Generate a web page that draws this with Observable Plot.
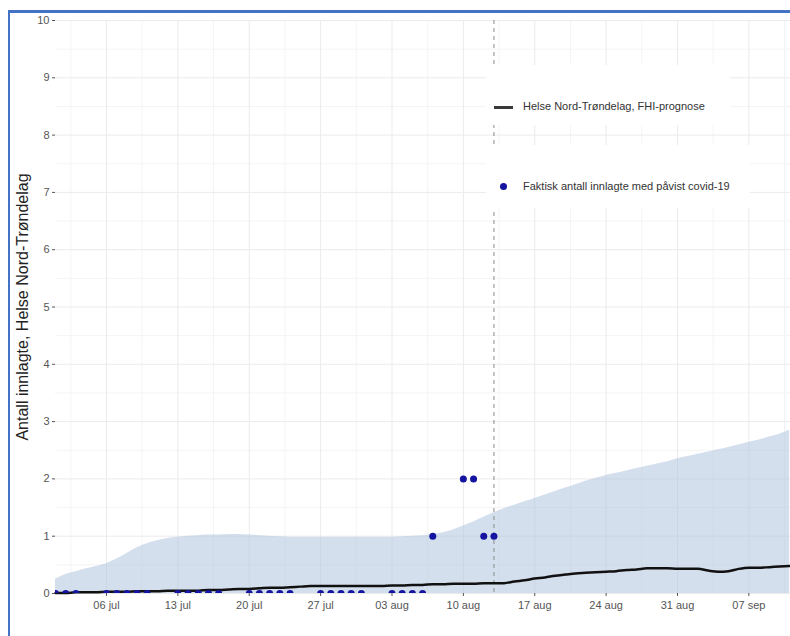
<!DOCTYPE html>
<html><head><meta charset="utf-8">
<script src="https://cdn.jsdelivr.net/npm/d3@7"></script>
<script src="https://cdn.jsdelivr.net/npm/@observablehq/plot@0.6"></script>
<style>
html,body{margin:0;padding:0;background:#fff;overflow:hidden;width:790px;height:636px;}
#chart{position:absolute;left:0;top:0;}
#frame{position:absolute;left:8px;top:10px;width:1000px;height:1000px;border-top:3px solid #4472c4;border-left:2px solid #4472c4;pointer-events:none;z-index:3}
.lg{position:absolute;background:#fff;z-index:2;font-family:"Liberation Sans",Arial,sans-serif;font-size:11px;color:#333;}
.lg span{position:absolute;white-space:nowrap;line-height:13px}
</style></head><body>
<div id="chart"></div>
<div class="lg" style="left:486px;top:65px;width:244px;height:60px">
  <span style="left:8px;top:41px;width:19px;height:3px;background:#3a3a3a"></span>
  <span id="lg1" style="left:37px;top:35px"></span>
</div>
<div class="lg" style="left:486px;top:145px;width:264px;height:63px">
  <span style="left:14px;top:38px;width:7px;height:7px;border-radius:50%;background:#1414a0"></span>
  <span id="lg2" style="left:37px;top:35px"></span>
</div>
<div id="frame"></div>
<script>
// ---- data ----
const startDay = "2020-07-01";
const prognosis = [
  0.01,0.01,0.02,0.02,0.02,0.03,0.03,0.03,0.04,0.04,0.04,0.05,0.05,0.05,0.05,0.06,0.06,0.07,0.08,0.08,0.09,0.10,0.10,0.11,0.12,0.13,0.13,0.13,0.13,0.13,0.13,
  0.13,0.13,0.14,0.14,0.15,0.15,0.16,0.16,0.17,0.17,0.17,0.18,0.18,0.18,0.21,0.23,0.26,0.28,0.31,0.33,0.35,0.36,0.37,0.38,0.39,0.41,0.42,0.44,0.44,0.44,0.43,
  0.43,0.43,0.40,0.38,0.39,0.43,0.45,0.45,0.46,0.47,0.48
];
const bandUpper = [
  0.25,0.33,0.38,0.43,0.47,0.52,0.60,0.70,0.80,0.87,0.92,0.96,0.98,1.00,1.01,1.02,1.02,1.03,1.03,1.02,1.01,1.00,0.99,0.98,0.98,0.98,0.98,0.98,0.98,0.98,0.98,
  0.98,0.98,0.98,0.99,1.00,1.01,1.03,1.06,1.11,1.18,1.25,1.33,1.41,1.48,1.54,1.60,1.66,1.72,1.78,1.84,1.90,1.96,2.01,2.06,2.10,2.14,2.18,2.22,2.26,2.30,2.35,
  2.39,2.43,2.47,2.51,2.55,2.59,2.64,2.68,2.73,2.78,2.85
];
const obsDates = [
  "2020-07-01","2020-07-02","2020-07-03",
  "2020-07-06","2020-07-07","2020-07-08","2020-07-09","2020-07-10",
  "2020-07-13","2020-07-14","2020-07-15","2020-07-16","2020-07-17",
  "2020-07-20","2020-07-21","2020-07-22","2020-07-23","2020-07-24",
  "2020-07-27","2020-07-28","2020-07-29","2020-07-30","2020-07-31",
  "2020-08-03","2020-08-04","2020-08-05","2020-08-06","2020-08-07",
  "2020-08-10","2020-08-11","2020-08-12","2020-08-13"
];
const obsValues = [
  0,0,0,
  0,0,0,0,0,
  0,0,0,0,0,
  0,0,0,0,0,
  0,0,0,0,0,
  0,0,0,0,1,
  2,2,1,1
];
const forecastStart = "2020-08-13";
const xTickDates = ["2020-07-06","2020-07-13","2020-07-20","2020-07-27","2020-08-03","2020-08-10","2020-08-17","2020-08-24","2020-08-31","2020-09-07"];
const xTickLabels = ["06 jul","13 jul","20 jul","27 jul","03 aug","10 aug","17 aug","24 aug","31 aug","07 sep"];
const yTicks = [0,1,2,3,4,5,6,7,8,9,10];
const yTitle = "Antall innlagte, Helse Nord-Trøndelag";
const legendLine = "Helse Nord-Trøndelag, FHI-prognose";
const legendDot = "Faktisk antall innlagte med påvist covid-19";

// ---- build ----
const d0 = new Date(startDay + "T00:00Z");
const series = prognosis.map((v, i) => ({date: d3.utcDay.offset(d0, i), value: v, upper: bandUpper[i]}));
const obs = obsDates.map((d, i) => ({date: new Date(d + "T00:00Z"), value: obsValues[i]}));
const xTicks = xTickDates.map(d => new Date(d + "T00:00Z"));
const labelMap = new Map(xTicks.map((d, i) => [+d, xTickLabels[i]]));
const xMinor = [d3.utcHour.offset(xTicks[0], -84), ...xTicks.map(d => d3.utcHour.offset(d, 84))];
const yMinor = yTicks.slice(0, -1).map(v => v + 0.5);

const chart = Plot.plot({
  width: 790, height: 636,
  marginLeft: 55, marginRight: 0, marginTop: 20, marginBottom: 43,
  style: {fontFamily: "'Liberation Sans', Arial, sans-serif", fontSize: "11px", color: "#555", background: "white"},
  x: {type: "utc", domain: [d0, new Date("2020-09-11T02:00Z")]},
  y: {domain: [0, 10]},
  marks: [
    Plot.ruleY(yMinor, {stroke: "#f4f4f4"}),
    Plot.ruleX(xMinor, {stroke: "#f4f4f4"}),
    Plot.ruleY(yTicks, {stroke: "#ebebeb"}),
    Plot.ruleX(xTicks, {stroke: "#ebebeb"}),
    Plot.areaY(series, {x: "date", y1: 0, y2: "upper", fill: "#b0c4de", fillOpacity: 0.55, curve: "monotone-x"}),
    Plot.ruleX([new Date(forecastStart + "T00:00Z")], {stroke: "#8a8a8a", strokeDasharray: "4,4"}),
    Plot.line(series, {x: "date", y: "value", stroke: "#111", strokeWidth: 2.5, curve: "monotone-x"}),
    Plot.dot(obs, {x: "date", y: "value", r: 3.5, fill: "#1414a0", clip: true}),
    Plot.axisX({ticks: xTicks, tickFormat: d => labelMap.get(+d), tickSize: 3, tickPadding: 5, label: null}),
    Plot.axisY({ticks: yTicks, tickSize: 3, tickPadding: 3, label: null}),
    Plot.text([yTitle], {frameAnchor: "left", dx: -33, rotate: -90, textAnchor: "middle", fontSize: 16, fill: "#222"})
  ]
});
document.getElementById("chart").append(chart);
document.getElementById("lg1").textContent = legendLine;
document.getElementById("lg2").textContent = legendDot;
</script>
</body></html>
